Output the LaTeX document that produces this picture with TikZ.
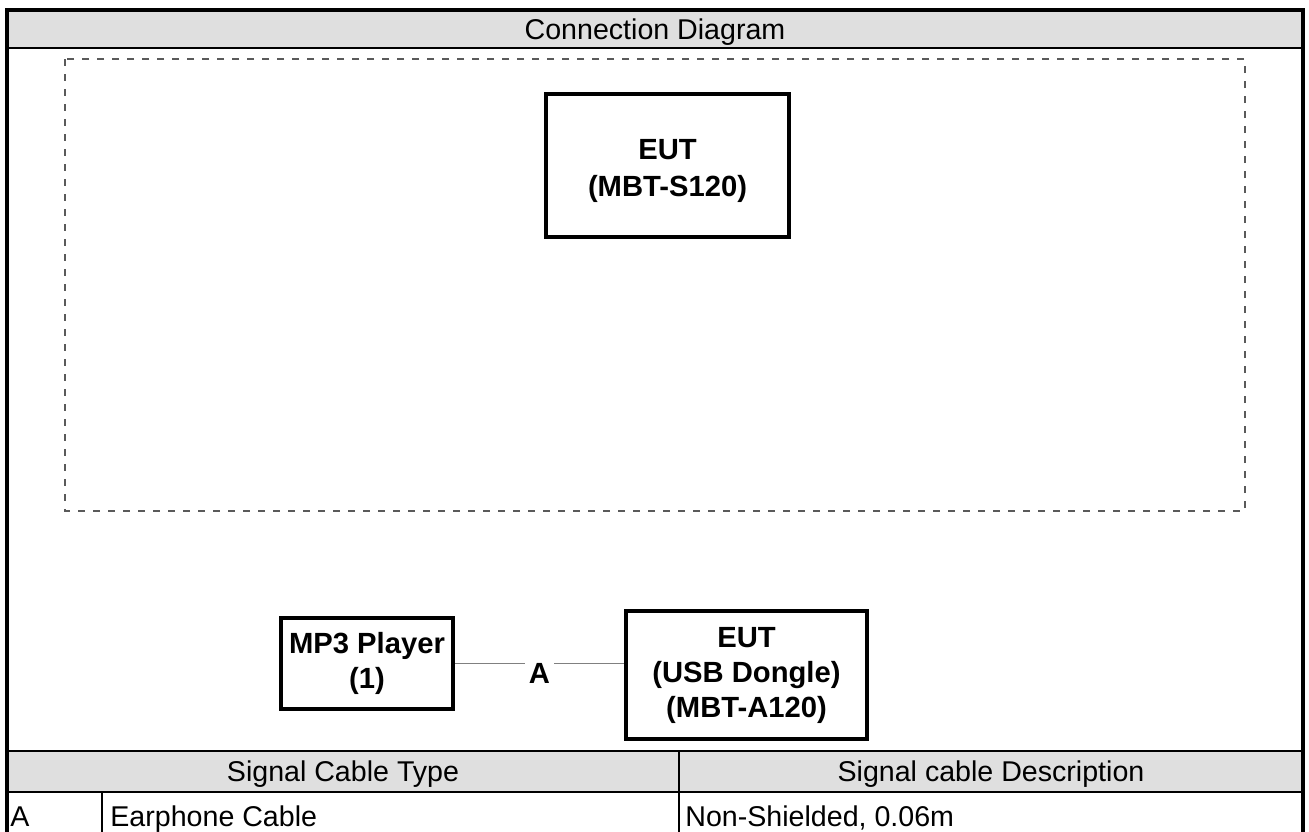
\documentclass[tikz,border=0pt]{standalone}
\usepackage{fontspec}
\setmainfont{Liberation Sans}
\definecolor{hdrgray}{RGB}{223,223,223}
\definecolor{dashgray}{RGB}{90,90,90}
\definecolor{cablegray}{RGB}{128,128,128}
\begin{document}
\begin{tikzpicture}[x=0.5pt,y=-0.5pt,
  frame/.style={line width=1.7pt},
  grid/.style={line width=1.15pt},
  devbox/.style={draw,line width=2pt,align=center,inner sep=0pt,
    font=\bfseries\fontsize{14.6}{17.5}\selectfont},
  cable/.style={draw=cablegray,line width=0.75pt},
  cablelbl/.style={fill=white,inner sep=2pt,font=\bfseries\fontsize{14.6}{16}\selectfont},
  regtext/.style={inner sep=0pt,font=\fontsize{14.3}{17}\selectfont},
  dashbox/.style={draw=dashgray,line width=0.8pt,dash pattern=on 3.5pt off 4pt}
]
\useasboundingbox (0,0) rectangle (1309,831);
% header band and table shading
\fill[hdrgray] (7,10) rectangle (1303,48);
\fill[hdrgray] (7,751) rectangle (1303,792);
% grid lines
\draw[grid] (7,48) -- (1303,48);
\draw[grid] (7,751) -- (1303,751);
\draw[grid] (7,792) -- (1303,792);
\draw[grid] (679,751) -- (679,840);
\draw[grid] (102,792) -- (102,840);
% outer frame (bottom edge lies below the visible area)
\draw[frame] (7,10) rectangle (1303,840);
% titles
\node[regtext,anchor=base] (title) at (655,39) {Connection Diagram};
\node[regtext,anchor=base] (colA) at (343,781.5) {Signal Cable Type};
\node[regtext,anchor=base] (colB) at (991,781.5) {Signal cable Description};
\node[regtext,anchor=base west] (rowid) at (10,826) {A};
\node[regtext,anchor=base west] (rowtype) at (110,826) {Earphone Cable};
\node[regtext,anchor=base west] (rowdesc) at (685,826) {Non-Shielded, 0.06m};
% dashed area
\draw[dashbox] (65,59) rectangle (1245,511);
% devices
\node[devbox,minimum width=121.5pt,minimum height=71.5pt] (euts) at (667.5,165.5) {};
\node[inner sep=0pt,align=center,font=\bfseries\fontsize{14.6}{18.5}\selectfont] (eutstext) at ([yshift=-2.5pt]euts.center) {EUT\\(MBT-S120)};
\node[devbox,minimum width=86pt,minimum height=45.5pt] (mp3) at (367,663.5) {MP3 Player\\(1)};
\node[devbox,minimum width=120.5pt,minimum height=64pt] (dongle) at (746.5,675) {EUT\\(USB Dongle)\\(MBT-A120)};
% cable
\coordinate (cabend) at (mp3.east -| dongle.west);
\draw[cable] (mp3.east) -- (cabend);
\node[cablelbl] (lblA) at (539.5,673) {A};
\end{tikzpicture}
\end{document}
